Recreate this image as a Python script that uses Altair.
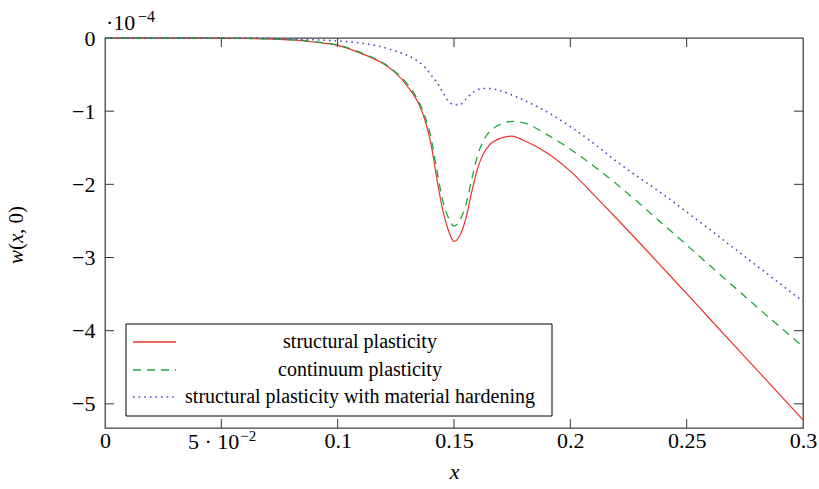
import altair as alt
import pandas as pd

# ---- data (w(x,0) in units of 1e-4) ----
x_vals = [0.0, 0.02, 0.04, 0.06, 0.08, 0.09, 0.10, 0.11, 0.12, 0.125, 0.13, 0.135,
          0.1375, 0.14, 0.1425, 0.145, 0.1475, 0.15, 0.1525, 0.155, 0.1575, 0.16,
          0.1625, 0.165, 0.17, 0.175, 0.18, 0.19, 0.20, 0.21, 0.22, 0.24, 0.26, 0.28, 0.30]
red = [0.0, 0.0, 0.0, -0.005, -0.025, -0.055, -0.10, -0.21, -0.36, -0.48, -0.66, -0.91,
       -1.12, -1.43, -1.9, -2.33, -2.62, -2.78, -2.70, -2.48, -2.12, -1.80,
       -1.59, -1.47, -1.37, -1.34, -1.40, -1.57, -1.82, -2.14, -2.47, -3.15, -3.84, -4.53, -5.22]
green = [0.0, 0.0, 0.0, -0.005, -0.025, -0.05, -0.095, -0.2, -0.35, -0.47, -0.63, -0.88,
         -1.07, -1.35, -1.78, -2.2, -2.45, -2.57, -2.49, -2.29, -1.95, -1.62,
         -1.41, -1.29, -1.18, -1.14, -1.16, -1.32, -1.52, -1.75, -2.0, -2.55, -3.11, -3.67, -4.22]
blue = [0.0, 0.0, 0.0, 0.0, -0.015, -0.025, -0.04, -0.07, -0.13, -0.18, -0.24, -0.33,
        -0.40, -0.50, -0.60, -0.73, -0.86, -0.91, -0.91, -0.84, -0.76, -0.71,
        -0.69, -0.69, -0.72, -0.78, -0.85, -1.01, -1.21, -1.44, -1.69, -2.14, -2.62, -3.11, -3.60]

series_names = ["structural plasticity", "continuum plasticity",
                "structural plasticity with material hardening"]
series_colors = ["#e8352b", "#1fa53c", "#4b4bbd"]

x_tick_vals = [0.05, 0.10, 0.15, 0.20, 0.25]
y_tick_vals = [-1, -2, -3, -4, -5]
x_label_vals = [0, 0.05, 0.1, 0.15, 0.2, 0.25, 0.3]
y_label_vals = [0, -1, -2, -3, -4, -5]

W, H = 698, 390
FONT = "Liberation Serif, Times New Roman, Times, serif"

xs = alt.Scale(domain=[0, 0.3], nice=False, zero=False)
ys = alt.Scale(domain=[-5.33, 0], nice=False, zero=False)

xaxis = alt.Axis(values=x_label_vals, title="x", titleFontStyle="italic",
                 labelExpr="datum.value == 0 ? '0' : (abs(datum.value - 0.05) < 1e-9 ? '' : format(datum.value, '.2~f'))",
                 labelFlush=False, labelOverlap=False, labelPadding=2,
                 titlePadding=10)
yaxis = alt.Axis(values=y_label_vals, title=None,
                 labelExpr="datum.value == 0 ? '0' : '\u2212' + format(-datum.value, 'd')",
                 labelFlush=False, labelOverlap=False, labelPadding=10)

X = alt.X("x:Q", scale=xs, axis=xaxis)
Y = alt.Y("y:Q", scale=ys, axis=yaxis)


def line(vals, color, dash=None, width=1.3):
    kw = dict(color=color, strokeWidth=width, interpolate="monotone")
    if dash is not None:
        kw["strokeDash"] = dash
    return alt.Chart(pd.DataFrame({"x": x_vals, "y": vals})).mark_line(**kw).encode(x=X, y=Y)


red_line = line(red, series_colors[0], width=1.2)
green_line = line(green, series_colors[1], [8, 6])
blue_line = line(blue, series_colors[2], [1.6, 4.0], 1.6)

# inward ticks on all four sides
xt = pd.DataFrame({"x": x_tick_vals})
yt = pd.DataFrame({"y": y_tick_vals})
tick_col = "#333333"
t_bottom = alt.Chart(xt).mark_rule(color=tick_col, strokeWidth=1).encode(x=X, y=alt.value(H), y2=alt.value(H - 9))
t_top = alt.Chart(xt).mark_rule(color=tick_col, strokeWidth=1).encode(x=X, y=alt.value(0), y2=alt.value(9))
t_left = alt.Chart(yt).mark_rule(color=tick_col, strokeWidth=1).encode(y=Y, x=alt.value(0), x2=alt.value(9))
t_right = alt.Chart(yt).mark_rule(color=tick_col, strokeWidth=1).encode(y=Y, x=alt.value(W), x2=alt.value(W - 9))

# the 5·10^-2 tick label, drawn as main text + superscript at x = 0.05
five = pd.DataFrame({"x": [0.05]})
lab5 = alt.Chart(five).mark_text(
    text="5 \u00b7 10", font=FONT, fontSize=22, align="right", baseline="alphabetic", dx=18, color="black"
).encode(x=X, y=alt.value(H + 21))
sup_x = alt.Chart(five).mark_text(
    text="\u22122", font=FONT, fontSize=15, align="left", baseline="alphabetic", dx=19, color="black"
).encode(x=X, y=alt.value(H + 13))

# y multiplier  ·10^-4
mult = alt.Chart(pd.DataFrame({"a": [0]})).mark_text(
    text="\u00b710", font=FONT, fontSize=22, align="left", baseline="alphabetic", color="black"
).encode(x=alt.value(1), y=alt.value(-8))
mult_sup = alt.Chart(pd.DataFrame({"a": [0]})).mark_text(
    text="\u22124", font=FONT, fontSize=16, align="left", baseline="alphabetic", color="black"
).encode(x=alt.value(33), y=alt.value(-16))

# y title w(x, 0) with mixed styles, rotated
ytitle_parts = [("w", "italic", 226), ("(", "normal", 212), ("x", "italic", 205), (", 0)", "normal", 196)]
ytitle_layers = []
for txt, style, ypos in ytitle_parts:
    ytitle_layers.append(
        alt.Chart(pd.DataFrame({"a": [0]})).mark_text(
            text=txt, font=FONT, fontSize=21, fontStyle=style, angle=270,
            align="left", baseline="middle", color="black"
        ).encode(x=alt.value(-88), y=alt.value(ypos))
    )

# legend (manual, centred labels in a framed box)
leg_box = alt.Chart(pd.DataFrame({"a": [0]})).mark_rect(
    fill="white", stroke="black", strokeWidth=1
).encode(x=alt.value(21), x2=alt.value(447), y=alt.value(286), y2=alt.value(378))

leg_rows = [304, 332, 359]
leg_dash = [None, [8, 6], [1.6, 4.0]]
leg_layers = [leg_box]
for name, col, dash, ry in zip(series_names, series_colors, leg_dash, leg_rows):
    kw = dict(color=col, strokeWidth=1.3 if dash != [1.6, 4.0] else 1.6)
    if dash is not None:
        kw["strokeDash"] = dash
    leg_layers.append(
        alt.Chart(pd.DataFrame({"a": [0]})).mark_rule(**kw).encode(
            x=alt.value(28), x2=alt.value(71), y=alt.value(ry))
    )
    leg_layers.append(
        alt.Chart(pd.DataFrame({"label": [name]})).mark_text(
            font=FONT, fontSize=20, align="center", baseline="middle", color="black"
        ).encode(x=alt.value(255), y=alt.value(ry), text="label:N")
    )

chart = alt.layer(
    red_line, green_line, blue_line,
    t_bottom, t_top, t_left, t_right,
    lab5, sup_x, mult, mult_sup, *ytitle_layers, *leg_layers
).properties(
    width=W, height=H,
    padding={"left": 105, "top": 38, "right": 16, "bottom": 61},
    autosize=alt.AutoSizeParams(type="none"),
    background="white",
).configure_view(
    stroke="#444444", strokeWidth=1.3
).configure_axis(
    domain=False, ticks=False, grid=False,
    labelFont=FONT, labelFontSize=22, labelColor="black",
    titleFont=FONT, titleFontSize=22, titleColor="black", titleFontWeight="normal"
)

chart.save("out.html", embed_options={"renderer": "svg", "actions": False})
